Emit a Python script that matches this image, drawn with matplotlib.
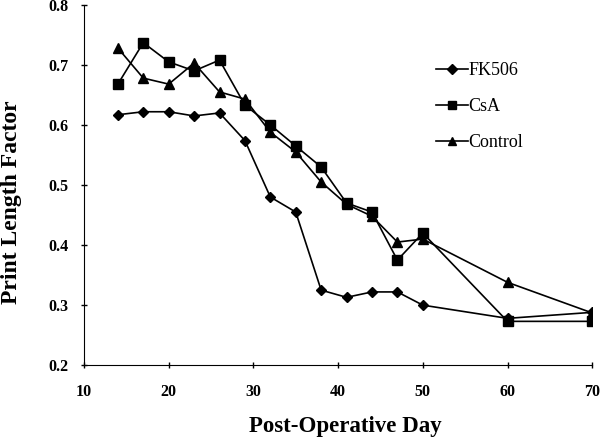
import matplotlib.pyplot as plt

plt.rcParams['font.family'] = ['Liberation Serif', 'DejaVu Serif']

days = [14, 17, 20, 23, 26, 29, 32, 35, 38, 41, 44, 47, 50, 60, 70]
fk506 = [0.617, 0.622, 0.622, 0.615, 0.620, 0.574, 0.480, 0.455, 0.325,
         0.313, 0.322, 0.322, 0.300, 0.278, 0.288]
csa = [0.668, 0.737, 0.705, 0.690, 0.708, 0.633, 0.600, 0.565, 0.530,
       0.470, 0.455, 0.375, 0.420, 0.273, 0.273]
control = [0.728, 0.678, 0.668, 0.703, 0.655, 0.643, 0.588, 0.555, 0.505,
           0.468, 0.448, 0.405, 0.410, 0.338, 0.287]

fig = plt.figure(figsize=(6, 4.4), dpi=100)
ax = fig.add_axes([0.14, 0.17, 0.847, 0.819])

ax.plot(days, fk506, 'k-', marker='D', markersize=5.5, lw=1.2, label='FK506')
ax.plot(days, csa, 'k-', marker='s', markersize=7.2, lw=1.2, label='CsA')
ax.plot(days, control, 'k-', marker='^', markersize=7.5, lw=1.2,
        label='Control')

ax.set_xlim(10, 70)
ax.set_ylim(0.2, 0.8)
ax.set_xticks(range(10, 71, 10))
ax.set_yticks([0.2, 0.3, 0.4, 0.5, 0.6, 0.7, 0.8])
ax.set_yticklabels(['0.2', '0.3', '0.4', '0.5', '0.6', '0.7', '0.8'])
ax.spines['top'].set_visible(False)
ax.spines['right'].set_visible(False)
ax.tick_params(direction='inout', length=5, width=1, labelsize=11.5)
ax.tick_params(axis='x', pad=11)
ax.tick_params(axis='y', pad=9)
for lab in ax.get_xticklabels() + ax.get_yticklabels():
    lab.set_fontweight('bold')

ax.set_xlabel('Post-Operative Day', fontsize=16.5, fontweight='bold',
              va='top')
ax.xaxis.set_label_coords(0.515, -0.142)
ax.set_ylabel('Print Length Factor', fontsize=17, fontweight='bold')
ax.yaxis.set_label_coords(-0.122, 0.453)

fig.legend(loc='upper left', bbox_to_anchor=(0.727, 0.858), frameon=False,
           fontsize=13, labelspacing=1.05, handlelength=1.75,
           handletextpad=0.05, borderaxespad=0, borderpad=0,
           markerscale=0.85)

fig.savefig('out.png')
